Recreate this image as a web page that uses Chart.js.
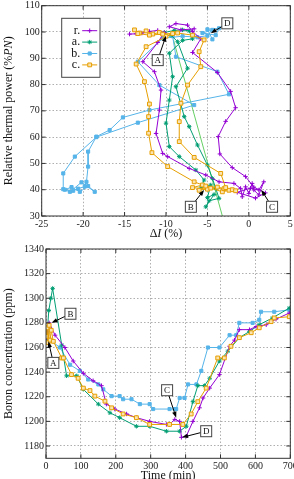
<!DOCTYPE html>
<html lang="en">
<head>
<meta charset="UTF-8">
<title>Power / boron</title>
<script src="https://cdn.jsdelivr.net/npm/chart.js"></script>
<style>
    body { margin: 0; width: 294px; height: 479px; overflow: hidden; background: #fff; }
    canvas { display: block; position: absolute; left: 0; }
    #powerChart { top: 0; }
    #boronChart { top: 240px; }
</style>
</head>
<body>
<canvas id="powerChart" width="294" height="240"></canvas>
<canvas id="boronChart" width="294" height="244"></canvas>

<script>
    // top plot: axial offset dI (%) against relative power (%PN), one path per run
    const dI_r = [-14.4, -13.6, -12.9, -12.0, -11.0, -10.2, -11.0, -12.8, -11.4, -10.6, -10.8, -11.2, -10.4, -9.8, -7.2, -5.2, -3.6, -1.8, -1.0, -0.8, -0.4, 0.0, 0.4, 0.6, 1.2, 1.8, 1.2, 0.2, -1.4, 0.8, 2.0, 0.6, -0.4, -2.0, -3.5, -3.7, -2.8, -1.6, -2.2, -3.8, -6.8, -5.8, -6.8, -7.4, -8.8, -9.6, -8.2, -6.6];
    const P_r  = [99.2, 99.3, 99.6, 100.2, 100.6, 99.8, 96.0, 88.7, 84.9, 77.9, 70.3, 61.4, 53.8, 52.6, 48.1, 45.6, 43.0, 42.4, 40.5, 37.3, 41.1, 38.6, 42.4, 39.9, 38.0, 43.0, 39.9, 40.6, 39.0, 36.8, 38.8, 41.0, 45.0, 48.4, 53.6, 60.2, 66.0, 71.2, 77.4, 84.6, 92.2, 97.4, 100.2, 102.6, 103.2, 102.0, 100.8, 101.2];

    const dI_a = [-10.2, -9.0, -8.0, -7.2, -6.8, -8.0, -9.6, -9.2, -9.6, -10.0, -9.6, -8.4, -6.4, -5.4, -5.8, -4.6, -5.0, -4.2, -5.2, -4.8, -3.6, -4.0, -4.4, -5.0, -6.2, -7.2, -7.8, -8.8, -7.4, -8.6, -9.4];
    const P_a  = [99.8, 100.6, 100.8, 100.4, 97.4, 96.8, 91.9, 83.0, 74.1, 65.3, 56.4, 52.6, 47.5, 43.7, 40.6, 41.8, 37.0, 38.2, 33.5, 35.8, 36.7, 40.5, 44.3, 49.4, 57.0, 64.0, 67.8, 79.2, 86.2, 96.3, 98.8];

    const dI_b = [-9.2, -8.8, -3.8, -2.4, -12.0, -15.2, -16.8, -18.4, -19.4, -19.4, -19.6, -19.8, -20.6, -21.2, -22.2, -21.4, -20.4, -19.4, -18.6, -20.2, -21.6, -22.4, -22.4, -21.0, -18.4, -13.4, -6.6, -10.8, -13.4, -10.4, -8.0, -6.2, -5.0, -4.4, -5.6, -4.0, -3.6, -5.0, -4.4];
    const P_b  = [98.4, 90.6, 84.9, 76.3, 70.3, 67.5, 62.7, 60.2, 54.5, 48.8, 43.0, 41.2, 40.4, 39.6, 40.0, 41.0, 39.2, 41.4, 39.2, 42.8, 39.2, 40.2, 46.2, 52.6, 60.0, 65.5, 72.2, 79.8, 88.7, 97.6, 98.4, 98.0, 98.6, 100.8, 99.6, 98.8, 101.4, 101.0, 97.2];

    const dI_c = [-13.8, -13.2, -12.4, -11.6, -10.8, -10.0, -9.2, -12.4, -13.6, -12.6, -12.0, -12.1, -12.1, -11.7, -9.8, -6.6, -5.6, -6.8, -5.0, -3.8, -2.4, -3.2, -4.6, -6.0, -5.2, -3.0, -2.0, -1.6, -2.8, -3.4, -6.6, -8.4, -8.4, -8.2, -7.4, -5.8, -6.0, -5.4, -6.8, -8.6, -10.4, -12.0, -13.4];
    const P_c  = [100.8, 99.6, 100.4, 99.2, 99.8, 98.4, 99.4, 94.4, 87.8, 81.1, 72.6, 67.8, 61.5, 54.1, 48.8, 43.0, 41.8, 40.8, 40.2, 41.0, 39.8, 39.2, 40.6, 39.8, 41.4, 40.4, 40.0, 39.6, 40.8, 46.2, 52.3, 58.3, 65.9, 72.9, 79.8, 86.8, 92.5, 97.0, 98.8, 99.6, 99.2, 98.8, 99.4];

    // thin straight guide line (not in the key)
    const dI_fit = [-9.1, -3.2];
    const P_fit  = [97, 30];

    // bottom plot: boron concentration (ppm) against time (min)
    const t_r = [2, 9, 26, 54, 78, 107, 135, 159, 173, 197, 231, 259, 297, 345, 354, 369, 383, 388, 402, 421, 440, 450, 469, 497, 526, 540, 554, 583, 602, 631, 659, 697];
    const B_r = [1268, 1280, 1270, 1260, 1249, 1239, 1233, 1229, 1214, 1210, 1206, 1203, 1200, 1197.5, 1197.5, 1201.6, 1200, 1187, 1188, 1200, 1211, 1219, 1227, 1238, 1261, 1266, 1274.5, 1274.5, 1277, 1278.5, 1283, 1288];

    const t_a = [2, 8, 14, 19, 45, 59, 88, 107, 150, 183, 211, 259, 297, 345, 383, 402, 421, 435, 454, 469, 497, 521, 554, 583, 611, 649, 697];
    const B_a = [1266, 1290, 1300, 1308, 1262, 1237, 1237, 1226, 1214, 1207, 1203, 1196, 1196, 1192, 1192, 1196, 1216, 1229, 1229, 1235, 1249, 1257, 1268, 1273, 1278.5, 1284, 1292];

    const t_b = [2, 11, 40, 69, 97, 121, 150, 164, 188, 211, 221, 245, 269, 297, 307, 354, 369, 373, 383, 397, 407, 431, 445, 464, 497, 526, 545, 554, 592, 611, 616, 654, 697];
    const B_b = [1272, 1266, 1260, 1246, 1241, 1234, 1230, 1226, 1220.5, 1220.5, 1218, 1218, 1214, 1214, 1210, 1210, 1210, 1210, 1219, 1219, 1230, 1230, 1241, 1260, 1260, 1270, 1270, 1280, 1280, 1282.5, 1289, 1289, 1290.6];

    const t_c = [0, 3, 6, 9, 12, 15, 21, 45, 50, 73, 92, 107, 126, 140, 169, 188, 221, 259, 297, 354, 392, 416, 435, 459, 492, 511, 530, 554, 588, 611, 645, 654, 697];
    const B_c = [1269, 1276, 1264, 1278, 1266, 1274, 1265, 1251.5, 1251.5, 1238, 1235, 1227, 1225, 1220.5, 1216.4, 1211, 1206, 1203, 1197.5, 1197.5, 1197.5, 1206, 1216, 1227, 1251.5, 1251.5, 1261, 1268, 1272, 1276, 1281, 1284, 1285];

    // tick values
    const xTicksTop = [-25, -20, -15, -10, -5, 0, 5];
    const yTicksTop = [30, 40, 50, 60, 70, 80, 90, 100, 110];
    const xTicksBot = [0, 100, 200, 300, 400, 500, 600, 700];
    const yTicksBot = [1180, 1200, 1220, 1240, 1260, 1280, 1300, 1320, 1340];

    const names = ['r.', 'a.', 'b.', 'c.'];
    const colors = ['#9400d3', '#009e73', '#56b4e9', '#e69f00'];
    const styles = ['cross', 'star', 'rect', 'rect'];
    const fills = ['#9400d3', '#009e73', '#56b4e9', '#fbe3b0'];
    const radii = [2.2, 2.2, 2.2, 2.7];
    const orders = [1, 2, 3, 0];
    const serif = "'Liberation Serif', 'DejaVu Serif', serif";

    // labelled points: [letter, box x, box y, arrow tip x, arrow tip y] in data units
    const notesTop = [['A', -11.0, 89.3, -10.0, 98.6], ['D', -2.6, 103.3, -4.6, 99.5],
                      ['B', -7.0, 33.5, -5.4, 39.9], ['C', 2.8, 33.5, 1.5, 39.9]];
    const notesBot = [['A', 21, 1247.5, 7, 1265], ['B', 70, 1287.4, 16, 1280],
                      ['C', 347, 1225.3, 373, 1203], ['D', 459, 1192, 390, 1187]];

    function pts(xs, ys) {
        return xs.map((x, i) => ({x: x, y: ys[i]}));
    }

    function series(i, xs, ys) {
        return {
            label: names[i],
            data: pts(xs, ys),
            showLine: true,
            borderColor: colors[i],
            backgroundColor: fills[i],
            borderWidth: 1,
            pointStyle: styles[i],
            pointRadius: radii[i],
            pointBorderWidth: 1,
            pointHoverRadius: radii[i],
            order: orders[i]
        };
    }

    // frame + inward tick marks, gnuplot style
    const framePlugin = {
        id: 'frame',
        afterDatasetsDraw(chart) {
            const {ctx, chartArea: a, scales} = chart;
            ctx.save();
            ctx.strokeStyle = '#333';
            ctx.lineWidth = 1;
            ctx.strokeRect(a.left, a.top, a.right - a.left, a.bottom - a.top);
            ctx.beginPath();
            scales.x.ticks.forEach(t => {
                const p = scales.x.getPixelForValue(t.value);
                ctx.moveTo(p, a.bottom); ctx.lineTo(p, a.bottom - 4);
                ctx.moveTo(p, a.top); ctx.lineTo(p, a.top + 4);
            });
            scales.y.ticks.forEach(t => {
                const p = scales.y.getPixelForValue(t.value);
                ctx.moveTo(a.left, p); ctx.lineTo(a.left + 4, p);
                ctx.moveTo(a.right, p); ctx.lineTo(a.right - 4, p);
            });
            ctx.stroke();
            ctx.restore();
        }
    };

    // boxed letters with arrows
    const notesPlugin = {
        id: 'notes',
        afterDatasetsDraw(chart, args, opts) {
            const {ctx, scales: {x, y}} = chart;
            const h = 5.5;
            ctx.save();
            (opts.items || []).forEach(n => {
                const bx = x.getPixelForValue(n[1]), by = y.getPixelForValue(n[2]);
                const tx = x.getPixelForValue(n[3]), ty = y.getPixelForValue(n[4]);
                const dx = tx - bx, dy = ty - by;
                const k = h / Math.max(Math.abs(dx), Math.abs(dy));
                const sx = bx + dx * k, sy = by + dy * k;
                const len = Math.hypot(tx - sx, ty - sy);
                const ux = (tx - sx) / len, uy = (ty - sy) / len;
                ctx.strokeStyle = '#000';
                ctx.fillStyle = '#000';
                ctx.lineWidth = 1;
                ctx.beginPath();
                ctx.moveTo(sx, sy);
                ctx.lineTo(tx - ux * 4, ty - uy * 4);
                ctx.stroke();
                ctx.beginPath();
                ctx.moveTo(tx, ty);
                ctx.lineTo(tx - ux * 6 - uy * 2.2, ty - uy * 6 + ux * 2.2);
                ctx.lineTo(tx - ux * 6 + uy * 2.2, ty - uy * 6 - ux * 2.2);
                ctx.closePath();
                ctx.fill();
                ctx.fillStyle = '#fff';
                ctx.fillRect(bx - h, by - h, 2 * h, 2 * h);
                ctx.strokeStyle = '#444';
                ctx.strokeRect(bx - h, by - h, 2 * h, 2 * h);
                ctx.fillStyle = '#111';
                ctx.font = '9px ' + serif;
                ctx.textAlign = 'center';
                ctx.textBaseline = 'middle';
                ctx.fillText(n[0], bx, by + 0.5);
            });
            ctx.restore();
        }
    };

    // axis titles with italic parts
    function richText(ctx, parts, size) {
        let w = 0;
        parts.forEach(p => {
            ctx.font = (p[1] ? 'italic ' : '') + size + 'px ' + serif;
            w += ctx.measureText(p[0]).width;
        });
        let cx = -w / 2;
        ctx.textAlign = 'left';
        ctx.textBaseline = 'middle';
        parts.forEach(p => {
            ctx.font = (p[1] ? 'italic ' : '') + size + 'px ' + serif;
            ctx.fillText(p[0], cx, 0);
            cx += ctx.measureText(p[0]).width;
        });
    }

    const titlePlugin = {
        id: 'titles',
        afterDraw(chart, args, opts) {
            const {ctx, chartArea: a} = chart;
            ctx.save();
            ctx.fillStyle = '#111';
            ctx.translate((a.left + a.right) / 2, opts.xPos);
            richText(ctx, opts.xTitle, 12);
            ctx.restore();
            ctx.save();
            ctx.fillStyle = '#111';
            ctx.translate(opts.yPos, (a.top + a.bottom) / 2);
            ctx.rotate(-Math.PI / 2);
            richText(ctx, opts.yTitle, 12);
            ctx.restore();
        }
    };

    // key box inside the top plot
    function drawMark(ctx, style, x, y, r, stroke, fill) {
        ctx.strokeStyle = stroke;
        ctx.fillStyle = fill;
        ctx.beginPath();
        if (style === 'cross' || style === 'star') {
            ctx.moveTo(x - r, y); ctx.lineTo(x + r, y);
            ctx.moveTo(x, y - r); ctx.lineTo(x, y + r);
            if (style === 'star') {
                const d = r * 0.7;
                ctx.moveTo(x - d, y - d); ctx.lineTo(x + d, y + d);
                ctx.moveTo(x - d, y + d); ctx.lineTo(x + d, y - d);
            }
            ctx.stroke();
        } else {
            const s = r * Math.SQRT1_2;
            ctx.rect(x - s, y - s, 2 * s, 2 * s);
            ctx.fill();
            ctx.stroke();
        }
    }

    const keyPlugin = {
        id: 'keybox',
        afterDatasetsDraw(chart) {
            const {ctx, chartArea: a} = chart;
            const left = a.left + 20, top = a.top + 12.6;
            ctx.save();
            ctx.fillStyle = '#fff';
            ctx.fillRect(left, top, 38.3, 59);
            ctx.strokeStyle = '#444';
            ctx.lineWidth = 1;
            ctx.strokeRect(left, top, 38.3, 59);
            names.forEach((nm, i) => {
                const yy = top + 12.4 + i * 11.4;
                ctx.fillStyle = '#111';
                ctx.font = '12px ' + serif;
                ctx.textAlign = 'right';
                ctx.textBaseline = 'middle';
                ctx.fillText(nm, left + 18.5, yy);
                ctx.strokeStyle = colors[i];
                ctx.lineWidth = 1;
                ctx.beginPath();
                ctx.moveTo(left + 20.5, yy);
                ctx.lineTo(left + 35.5, yy);
                ctx.stroke();
                drawMark(ctx, styles[i], left + 28, yy, radii[i], colors[i], fills[i]);
            });
            ctx.restore();
        }
    };

    function axis(min, max, values, fitFn) {
        return {
            type: 'linear',
            min: min,
            max: max,
            afterBuildTicks: s => { s.ticks = values.map(v => ({value: v})); },
            afterFit: fitFn,
            grid: { color: '#9a9a9a', lineWidth: 0.8, drawTicks: false },
            border: { display: false, dash: [1.5, 2] },
            ticks: {
                padding: 2, color: '#222', font: { family: serif, size: 10 },
                maxRotation: 0, autoSkip: false,
                callback: v => String(v)
            }
        };
    }

    function makeChart(id, datasets, sizes, ranges, ticks, notes, titles) {
        const ctx = document.getElementById(id).getContext('2d');
        return new Chart(ctx, {
            type: 'scatter',
            data: { datasets: datasets },
            options: {
                responsive: false,
                animation: false,
                events: [],
                layout: { padding: sizes.pad },
                elements: { line: { tension: 0 } },
                scales: {
                    x: axis(ranges[0], ranges[1], ticks[0], s => {
                        s.height = sizes.xh; s.paddingLeft = 0; s.paddingRight = 0;
                    }),
                    y: axis(ranges[2], ranges[3], ticks[1], s => {
                        s.width = sizes.yw; s.paddingTop = 0; s.paddingBottom = 0;
                    })
                },
                plugins: {
                    legend: { display: false },
                    tooltip: { enabled: false },
                    notes: { items: notes },
                    titles: titles
                }
            },
            plugins: [framePlugin, notesPlugin, titlePlugin].concat(id === 'powerChart' ? [keyPlugin] : [])
        });
    }

    const topSets = [
        series(0, dI_r, P_r), series(1, dI_a, P_a), series(2, dI_b, P_b), series(3, dI_c, P_c),
        { label: '', data: pts(dI_fit, P_fit), showLine: true, borderColor: '#66d066', borderWidth: 1, pointRadius: 0, order: 4 }
    ];
    const botSets = [
        series(0, t_r, B_r), series(1, t_a, B_a), series(2, t_b, B_b), series(3, t_c, B_c)
    ];

    makeChart('powerChart', topSets,
        { pad: { top: 5.7, right: 2.3, left: 0, bottom: 0 }, xh: 24, yw: 41.7 },
        [-25, 5, 30, 110], [xTicksTop, yTicksTop], notesTop,
        { xTitle: [['Δ', false], ['I', true], [' (%)', false]], xPos: 233.5,
          yTitle: [['Relative thermal power (%', false], ['PN', true], [')', false]], yPos: 8.5 });

    makeChart('boronChart', botSets,
        { pad: { top: 9, right: 3, left: 0, bottom: 0 }, xh: 25.7, yw: 46 },
        [0, 700, 1170, 1340], [xTicksBot, yTicksBot], notesBot,
        { xTitle: [['Time (min)', false]], xPos: 235.5,
          yTitle: [['Boron concentration (ppm)', false]], yPos: 8.5 });
</script>
</body>
</html>
